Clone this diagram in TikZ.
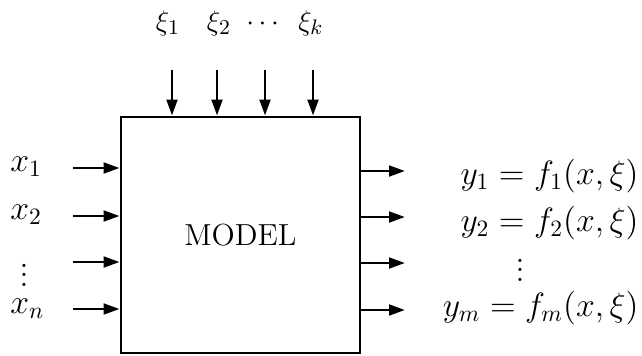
\documentclass[tikz,border=0pt]{standalone}
\usepackage{amsmath}
\usetikzlibrary{arrows.meta, positioning, calc}

\begin{document}
\begin{tikzpicture}[
    x=0.015cm, y=-0.015cm,
    >={Triangle[length=2.4mm, width=1.6mm]},
    flow/.style={->, line width=1.2pt},
    block/.style={rectangle, draw, line width=1.2pt, minimum width=3.585cm, minimum height=3.54cm, inner sep=0pt, font=\fontsize{13}{15}\selectfont},
    lbl/.style={inner sep=0pt, font=\fontsize{14}{17}\selectfont},
    toplbl/.style={inner sep=0pt, font=\fontsize{13}{15}\selectfont},
]
    \useasboundingbox (0,0) rectangle (642,355);

    % Model block
    \node[block] (model) at (240.5,235) {MODEL};

    % Disturbances on top
    \foreach \n/\x in {1/172, 2/217, 3/265, 4/313}
        \coordinate (top\n) at (\x,70);
    \foreach \n in {1,...,4}
        \draw[flow] (top\n) -- (top\n |- model.north);
    \node[toplbl, anchor=base] (xi1) at (168,30) {$\xi_1$};
    \node[toplbl, anchor=base] (xi2) at (219,30) {$\xi_2$};
    \node[toplbl, anchor=base] (xidots) at (265,30) {$\cdots$};
    \node[toplbl, anchor=base] (xik) at (311,30) {$\xi_k$};

    % Inputs
    \foreach \n/\y in {1/168, 2/216, 3/262, 4/309}
        \coordinate (in\n) at (73,\y);
    \foreach \n in {1,...,4}
        \draw[flow] (in\n) -- (in\n -| model.west);
    \node[lbl, anchor=base west] (x1) at (10,171) {$x_1$};
    \node[lbl, anchor=base west] (x2) at (10,219) {$x_2$};
    \node[lbl] (xdots) at (24,268) {$\vdots$};
    \node[lbl, anchor=base west] (xn) at (10,313) {$x_n$};

    % Outputs
    \foreach \n/\y in {1/171, 2/217, 3/263, 4/310}
        \coordinate (out\n) at (405,\y);
    \foreach \n in {1,...,4}
        \draw[flow] (out\n -| model.east) -- (out\n);
    \node[lbl, anchor=base east] (y1) at (639,184) {$y_1 = f_1(x,\xi)$};
    \node[lbl, anchor=base east] (y2) at (639,231) {$y_2 = f_2(x,\xi)$};
    \node[lbl] (ydots) at (520,263) {$\vdots$};
    \node[lbl, anchor=base east] (ym) at (639,316) {$y_m = f_m(x,\xi)$};
\end{tikzpicture}
\end{document}
